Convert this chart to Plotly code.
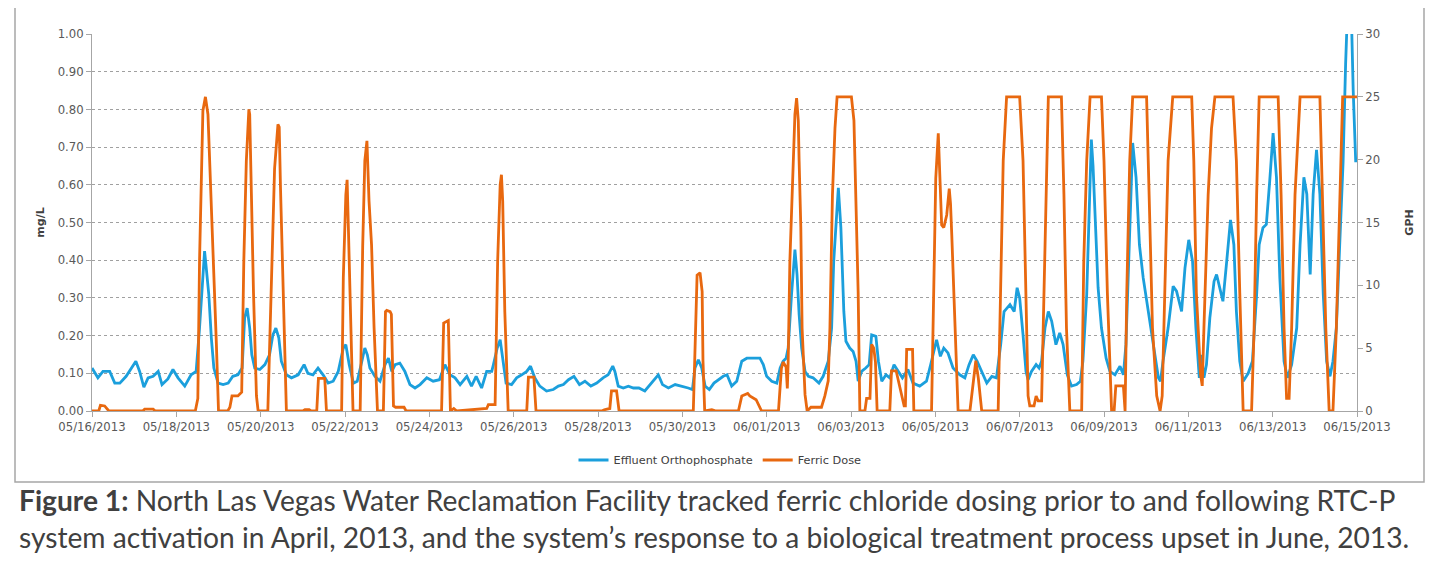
import pandas as pd
import plotly.graph_objects as go

# effluent orthophosphate, mg/L (days after 05/16/2013 00:00)
ortho_day = [0.00, 0.14, 0.26, 0.42, 0.54, 0.66, 0.81, 0.93, 1.04, 1.13, 1.23, 1.33, 1.45, 1.57, 1.66, 1.80,
             1.92, 2.04, 2.20, 2.35, 2.47, 2.55, 2.63, 2.67, 2.71, 2.77, 2.83, 2.89, 2.99, 3.11, 3.23, 3.34,
             3.46, 3.56, 3.62, 3.68, 3.74, 3.79, 3.86, 3.98, 4.10, 4.21, 4.29, 4.36, 4.43, 4.49, 4.61, 4.73,
             4.89, 5.03, 5.12, 5.24, 5.36, 5.48, 5.60, 5.72, 5.84, 5.96, 6.02, 6.10, 6.20, 6.29, 6.40, 6.47,
             6.53, 6.59, 6.71, 6.83, 6.95, 7.03, 7.11, 7.19, 7.30, 7.42, 7.54, 7.66, 7.78, 7.94, 8.09, 8.24,
             8.37, 8.49, 8.61, 8.73, 8.89, 9.00, 9.11, 9.24, 9.36, 9.48, 9.52, 9.61, 9.68, 9.74, 9.82, 9.95,
             10.07, 10.19, 10.31, 10.40, 10.50, 10.62, 10.78, 10.94, 11.06, 11.18, 11.30, 11.43, 11.56, 11.69,
             11.83, 11.97, 12.12, 12.24, 12.35, 12.40, 12.48, 12.60, 12.72, 12.84, 12.97, 13.11, 13.23, 13.33,
             13.43, 13.53, 13.67, 13.83, 13.98, 14.14, 14.24, 14.30, 14.38, 14.46, 14.54, 14.64, 14.75, 14.85,
             14.97, 15.06, 15.17, 15.29, 15.41, 15.53, 15.68, 15.84, 15.92, 16.00, 16.12, 16.24, 16.32, 16.39,
             16.46, 16.51, 16.59, 16.67, 16.72, 16.77, 16.83, 16.91, 16.99, 17.10, 17.24, 17.34, 17.46, 17.54,
             17.59, 17.66, 17.70, 17.76, 17.80, 17.83, 17.88, 17.97, 18.05, 18.12, 18.17, 18.25, 18.35, 18.43,
             18.49, 18.59, 18.65, 18.73, 18.83, 18.92, 19.02, 19.12, 19.22, 19.35, 19.47, 19.63, 19.79, 19.89,
             20.03, 20.12, 20.20, 20.30, 20.42, 20.58, 20.70, 20.80, 20.90, 20.99, 21.10, 21.22, 21.34, 21.45,
             21.55, 21.63, 21.77, 21.87, 21.94, 22.00, 22.08, 22.15, 22.20, 22.28, 22.39, 22.46, 22.52, 22.60,
             22.68, 22.76, 22.86, 22.95, 23.03, 23.13, 23.23, 23.35, 23.44, 23.50, 23.59, 23.65, 23.70, 23.74,
             23.81, 23.86, 23.94, 24.05, 24.14, 24.26, 24.38, 24.46, 24.52, 24.60, 24.68, 24.76, 24.84, 24.93,
             25.05, 25.17, 25.29, 25.34, 25.40, 25.52, 25.64, 25.72, 25.84, 25.92, 26.01, 26.10, 26.18, 26.26,
             26.31, 26.37, 26.43, 26.51, 26.61, 26.67, 26.73, 26.82, 26.91, 27.00, 27.08, 27.14, 27.22, 27.30,
             27.42, 27.52, 27.62, 27.68, 27.77, 27.85, 27.93, 28.01, 28.09, 28.17, 28.27, 28.35, 28.45, 28.57,
             28.65, 28.74, 28.81, 28.89, 28.96, 29.04, 29.12, 29.20, 29.28, 29.36, 29.43, 29.51, 29.59, 29.67,
             29.73, 29.78, 29.86, 29.91, 29.97]
ortho_mgl = [0.114, 0.088, 0.105, 0.105, 0.074, 0.074, 0.092, 0.114, 0.132, 0.105, 0.063, 0.088, 0.092, 0.105, 0.070, 0.085,
             0.110, 0.088, 0.066, 0.096, 0.105, 0.220, 0.379, 0.424, 0.379, 0.309, 0.194, 0.114, 0.074, 0.070, 0.074, 0.092,
             0.096, 0.114, 0.247, 0.273, 0.220, 0.149, 0.114, 0.110, 0.123, 0.149, 0.202, 0.220, 0.194, 0.132, 0.096, 0.088,
             0.096, 0.123, 0.100, 0.096, 0.114, 0.096, 0.074, 0.079, 0.105, 0.167, 0.176, 0.123, 0.074, 0.079, 0.132, 0.167,
             0.149, 0.114, 0.092, 0.079, 0.123, 0.140, 0.105, 0.123, 0.127, 0.105, 0.070, 0.061, 0.070, 0.088, 0.079, 0.083,
             0.123, 0.096, 0.088, 0.070, 0.092, 0.066, 0.092, 0.061, 0.105, 0.105, 0.123, 0.167, 0.189, 0.140, 0.074, 0.070,
             0.088, 0.096, 0.105, 0.119, 0.088, 0.066, 0.053, 0.057, 0.066, 0.070, 0.083, 0.092, 0.070, 0.079,
             0.066, 0.074, 0.088, 0.096, 0.119, 0.105, 0.066, 0.061, 0.066, 0.061, 0.061, 0.053, 0.070, 0.083,
             0.096, 0.070, 0.061, 0.070, 0.066, 0.061, 0.057, 0.114, 0.136, 0.114, 0.066, 0.057, 0.074, 0.083,
             0.092, 0.096, 0.066, 0.079, 0.132, 0.140, 0.140, 0.140, 0.123, 0.092, 0.079, 0.074, 0.114, 0.132,
             0.140, 0.167, 0.309, 0.428, 0.362, 0.256, 0.167, 0.105, 0.092, 0.088, 0.074, 0.092, 0.132, 0.220,
             0.397, 0.521, 0.592, 0.486, 0.379, 0.264, 0.185, 0.167, 0.158, 0.132, 0.079, 0.105, 0.114, 0.123,
             0.202, 0.198, 0.132, 0.079, 0.096, 0.088, 0.123, 0.105, 0.088, 0.110, 0.074, 0.066, 0.079, 0.123,
             0.189, 0.145, 0.167, 0.154, 0.114, 0.096, 0.088, 0.123, 0.149, 0.132, 0.105, 0.074, 0.092, 0.088,
             0.176, 0.264, 0.282, 0.264, 0.327, 0.300, 0.202, 0.105, 0.083, 0.105, 0.123, 0.114, 0.132, 0.220,
             0.264, 0.238, 0.176, 0.207, 0.176, 0.096, 0.066, 0.070, 0.079, 0.132, 0.309, 0.574, 0.720, 0.650,
             0.486, 0.327, 0.220, 0.140, 0.105, 0.096, 0.119, 0.096, 0.176, 0.441, 0.711, 0.620, 0.441, 0.353,
             0.264, 0.176, 0.088, 0.079, 0.132, 0.220, 0.331, 0.318, 0.264, 0.379, 0.454, 0.397, 0.220, 0.088,
             0.149, 0.088, 0.123, 0.247, 0.344, 0.362, 0.335, 0.291, 0.397, 0.507, 0.441, 0.264, 0.132, 0.079,
             0.100, 0.132, 0.309, 0.441, 0.486, 0.495, 0.610, 0.737, 0.620, 0.353, 0.132, 0.088, 0.123, 0.220,
             0.441, 0.620, 0.575, 0.362, 0.575, 0.693, 0.575, 0.309, 0.132, 0.092, 0.132, 0.220, 0.441, 0.660,
             0.920, 1.080, 1.080, 0.850, 0.660]

# ferric dose, GPH
dose_day = [0.00, 0.16, 0.20, 0.30, 0.40, 1.20, 1.25, 1.45, 1.50, 2.45, 2.51, 2.55, 2.63, 2.69, 2.75, 2.79,
            2.87, 2.95, 3.00, 3.22, 3.27, 3.32, 3.46, 3.55, 3.60, 3.66, 3.72, 3.74, 3.78, 3.83, 3.90, 3.94,
            4.17, 4.24, 4.33, 4.41, 4.44, 4.47, 4.53, 4.61, 5.00, 5.05, 5.15, 5.20, 5.33, 5.37, 5.52, 5.56,
            5.92, 5.96, 6.02, 6.05, 6.08, 6.13, 6.19, 6.36, 6.42, 6.47, 6.52, 6.57, 6.63, 6.69, 6.77, 6.91,
            6.96, 6.99, 7.07, 7.10, 7.15, 7.20, 7.40, 7.45, 8.29, 8.34, 8.45, 8.50, 8.58, 8.65, 9.36, 9.40,
            9.52, 9.56, 9.62, 9.68, 9.71, 9.74, 9.79, 9.87, 10.31, 10.35, 10.48, 10.53, 12.09, 12.15, 12.28, 12.32,
            12.44, 12.50, 14.26, 14.32, 14.35, 14.42, 14.47, 14.49, 14.53, 14.70, 14.80, 15.33, 15.41, 15.55,
            15.60, 15.75, 15.88, 16.28, 16.35, 16.39, 16.46, 16.49, 16.51, 16.55, 16.62, 16.67, 16.71, 16.75,
            16.77, 16.81, 16.84, 16.91, 16.96, 17.05, 17.30, 17.38, 17.46, 17.50, 17.56, 17.62, 17.67, 18.01,
            18.07, 18.12, 18.17, 18.21, 18.33, 18.37, 18.45, 18.49, 18.54, 18.58, 18.62, 18.92, 18.96, 19.07,
            19.12, 19.20, 19.26, 19.29, 19.32, 19.46, 19.49, 19.91, 19.97, 20.01, 20.07, 20.11, 20.15, 20.20,
            20.27, 20.33, 20.36, 20.39, 20.46, 20.54, 20.82, 20.90, 20.96, 21.02, 21.10, 21.49, 21.55, 21.61,
            21.69, 22.00, 22.08, 22.15, 22.20, 22.24, 22.34, 22.39, 22.44, 22.52, 22.56, 22.62, 22.68, 22.99,
            23.05, 23.11, 23.19, 23.47, 23.52, 23.59, 23.67, 23.94, 24.00, 24.08, 24.18, 24.24, 24.28, 24.46,
            24.50, 24.54, 24.61, 24.68, 25.01, 25.07, 25.15, 25.25, 25.33, 25.38, 25.44, 25.52, 25.63, 26.08,
            26.13, 26.19, 26.29, 26.33, 26.37, 26.47, 26.55, 26.63, 27.06, 27.14, 27.22, 27.30, 27.50, 27.56,
            27.62, 27.68, 28.13, 28.20, 28.27, 28.33, 28.39, 28.45, 28.53, 28.65, 29.12, 29.18, 29.26, 29.34,
            29.43, 29.51, 29.59, 29.66, 30.00]
dose_gph = [0, 0, 0.45, 0.4, 0, 0, 0.15, 0.15, 0, 0, 1.0, 11.9, 23.9, 25.0, 23.6, 19.9,
            14.0, 5.3, 0, 0, 0.3, 1.2, 1.2, 1.5, 11.9, 19.9, 24.0, 23.6, 17.3, 9.4, 1.2, 0,
            0, 9.4, 19.3, 22.8, 22.6, 17.8, 9.4, 0, 0, 0.1, 0.1, 0, 0, 2.6, 2.6, 0,
            0, 10.6, 17.2, 18.4, 14.6, 8.0, 0, 0, 13.2, 19.9, 21.5, 16.7, 13.2, 6.6, 0, 0,
            7.9, 8.0, 7.9, 7.7, 0.4, 0.3, 0.3, 0, 0, 7.0, 7.2, 0, 0.2, 0, 0.2, 0.5,
            0.5, 0.5, 11.9, 18.0, 18.8, 16.7, 7.9, 0, 0, 2.7, 2.7, 0, 0, 0.1, 0.2, 1.6,
            1.6, 0, 0, 6.6, 10.8, 11.0, 9.5, 4.0, 0, 0.1, 0, 0, 1.2, 1.4,
            1.2, 0.9, 0, 0, 3.4, 3.9, 3.5, 1.8, 3.9, 11.9, 19.9, 23.6, 24.9, 23.1,
            19.9, 14.6, 6.6, 1.3, 0, 0.3, 0.3, 1.2, 2.4, 6.6, 17.2, 22.5, 25, 25,
            23.1, 17.2, 9.4, 0, 0, 1.0, 1.0, 5.3, 5.0, 3.9, 0, 0, 3.2, 3.2,
            2.4, 1.2, 0.4, 0.4, 4.9, 4.9, 0, 0, 11.9, 18.5, 22.1, 18.5, 14.8, 14.6,
            15.6, 17.7, 16.5, 14.0, 6.6, 0, 0, 2.6, 4.0, 2.6, 0, 0, 9.4, 19.9,
            25, 25, 19.9, 9.4, 1.2, 0.4, 0.4, 1.2, 0.8, 0.8, 6.6, 17.2, 25, 25,
            17.2, 6.6, 0, 0, 11.9, 19.9, 25, 25, 19.9, 9.4, 0, 0, 2.0, 2.0,
            0, 9.4, 19.9, 25, 25, 17.2, 6.6, 1.2, 0, 1.2, 9.4, 19.9, 25, 25,
            19.9, 9.4, 2.9, 2.0, 6.6, 17.2, 22.5, 25, 25, 19.9, 9.4, 0, 0, 6.6,
            17.2, 25, 25, 17.2, 6.6, 1.0, 1.0, 6.6, 17.2, 25, 25, 17.2, 6.6, 0,
            0, 6.6, 17.2, 25, 25]

start = pd.Timestamp("2013-05-16")
ortho_x = start + pd.to_timedelta(ortho_day, unit="D")
dose_x = start + pd.to_timedelta(dose_day, unit="D")

# the page body has an 8px margin, so the figure is drawn 8px in from the corner
OFF = 8
W, H = 1442 - 2 * OFF, 574 - 2 * OFF
L, R, T, B = 92, 1357, 34, 411  # plot area in page px


def px(x):
    return (x - L) / (R - L)


def py(y):
    return (B - y) / (B - T)


fig = go.Figure()
fig.add_trace(go.Scatter(x=ortho_x, y=ortho_mgl, mode="lines", name="Effluent Orthophosphate",
                         line=dict(color="#1b9fdc", width=2.8), yaxis="y"))
fig.add_trace(go.Scatter(x=dose_x, y=dose_gph, mode="lines", name="Ferric Dose",
                         line=dict(color="#e8680f", width=2.8), yaxis="y2"))

tickfont = dict(family="DejaVu Sans", size=11.7, color="#595959")
titlefont = dict(family="DejaVu Sans", size=11, color="#404040")

fig.update_layout(
    width=W, height=H,
    margin=dict(l=L - OFF, r=W - (R - OFF), t=T - OFF, b=H - (B - OFF)),
    paper_bgcolor="white", plot_bgcolor="white",
    showlegend=True,
    legend=dict(orientation="h", x=px(720), xanchor="center", y=py(460), yanchor="middle",
                font=dict(family="DejaVu Sans", size=11.3, color="#404040"),
                itemwidth=30, bgcolor="rgba(0,0,0,0)"),
    xaxis=dict(type="date", range=["2013-05-16", "2013-06-15"], dtick=2 * 86400000,
               tick0="2013-05-16", tickformat="%m/%d/%Y", tickfont=tickfont,
               showgrid=False, showline=True, linecolor="#a6a6a6", linewidth=1,
               ticks="outside", ticklen=5, tickcolor="#a6a6a6", zeroline=False),
    yaxis=dict(range=[0, 1], dtick=0.1, tickformat=".2f", tickfont=tickfont,
               showgrid=True, gridcolor="#a0a0a0", griddash="dot", gridwidth=1,
               showline=True, linecolor="#a6a6a6", ticks="outside", ticklen=5, tickcolor="#a6a6a6",
               zeroline=False,
               title=dict(text="<b>mg/L</b>", font=titlefont, standoff=10)),
    yaxis2=dict(range=[0, 30], dtick=5, overlaying="y", side="right", tickfont=tickfont,
                showgrid=False, showline=True, linecolor="#a6a6a6", ticks="outside", ticklen=5,
                tickcolor="#a6a6a6", zeroline=False,
                title=dict(text="<b>GPH</b>", font=titlefont, standoff=26)),
)

# outer chart border
fig.add_shape(type="rect", xref="paper", yref="paper", x0=px(15), x1=px(1424), y0=py(482), y1=py(2),
              line=dict(color="#a6a6a6", width=1.5))

capfont = dict(family="Lato", size=28.2, color="#404040")
fig.add_annotation(xref="paper", yref="paper", x=px(17), y=py(500), xanchor="left", yanchor="middle",
                   showarrow=False, font=capfont,
                   text="<b>Figure 1:</b> North Las Vegas Water Reclamation Facility tracked ferric chloride dosing prior to and following RTC-P")
fig.add_annotation(xref="paper", yref="paper", x=px(17), y=py(537), xanchor="left", yanchor="middle",
                   showarrow=False, font=capfont,
                   text="system activation in April, 2013, and the system’s response to a biological treatment process upset in June, 2013.")

fig.write_html("out.html")
